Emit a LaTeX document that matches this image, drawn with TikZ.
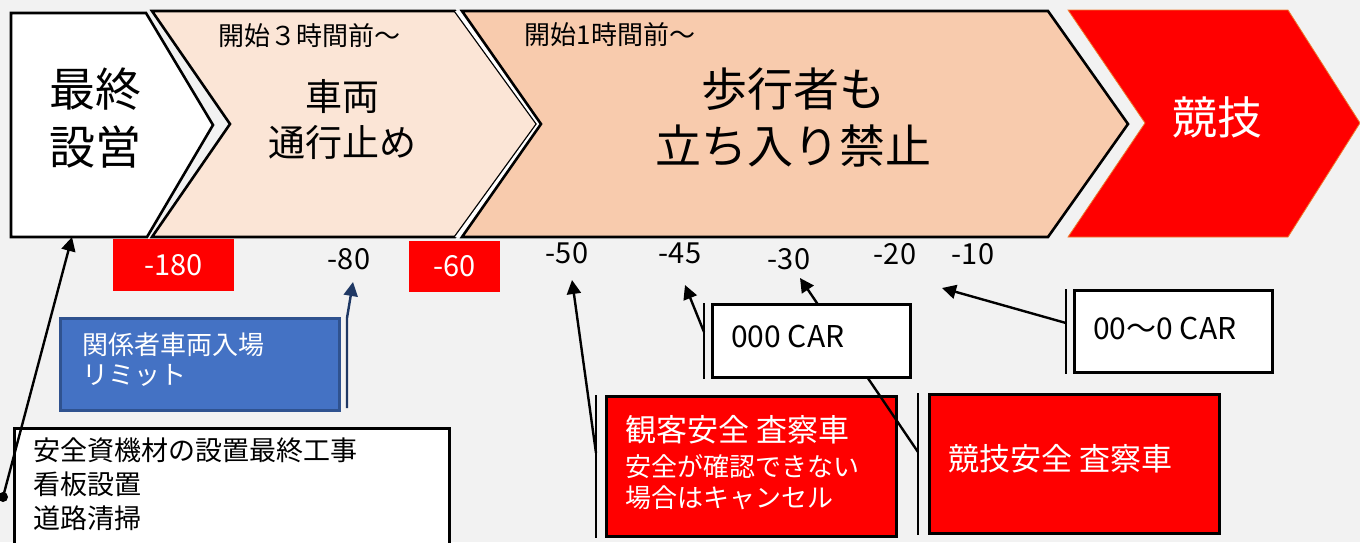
\documentclass[tikz,border=0pt]{standalone}
\usepackage{fontspec}
\setmainfont{Noto Sans CJK JP}
\usetikzlibrary{arrows.meta}
\definecolor{bg}{HTML}{F2F2F2}
\definecolor{peachA}{HTML}{FBE5D6}
\definecolor{peachB}{HTML}{F8CBAD}
\definecolor{myred}{HTML}{FF0000}
\definecolor{myblue}{HTML}{4472C4}
\definecolor{myblueb}{HTML}{2F528F}
\definecolor{navy}{HTML}{1F3864}
\definecolor{orangeb}{HTML}{ED7D31}
\newcommand\myfs[2]{\fontsize{#1}{#2}\selectfont}
\tikzset{
  phase/.style={line width=2.6pt, line join=miter},
  num/.style={inner sep=0pt, font=\myfs{29}{34}},
  redtag/.style={num, fill=myred, text=white},
  cbox/.style={draw=black, line width=2.6pt, inner sep=0pt},
  accent/.style={line width=2.6pt},
  conn/.style={line width=2.4pt, -{Triangle[length=14pt,width=14pt]}},
  wtxt/.style={text=white, inner sep=0pt, anchor=west},
  btxt/.style={inner sep=0pt, anchor=west},
}
\begin{document}
\begin{tikzpicture}[x=1pt,y=-1pt]
\fill[bg] (0,0) rectangle (1360,542);
\useasboundingbox (0,0) rectangle (1360,542);

% phases
\filldraw[phase, fill=white] (11,13) -- (146,13) -- (213,125) -- (147,237) -- (11,237) -- cycle;
\filldraw[phase, fill=peachA] (152,11) -- (455,11) -- (537,124) -- (455,237) -- (152,237) -- (230,124) -- cycle;
\fill[white] (455,11) -- (462,11) -- (541,124) -- (462,237) -- (455,237) -- (537,124) -- cycle;
\filldraw[phase, fill=peachB] (462,11) -- (1048,11) -- (1128,124) -- (1048,237) -- (462,237) -- (541,124) -- cycle;
\filldraw[fill=myred, draw=orangeb, line width=0.8pt] (1068,10) -- (1288,10) -- (1360,123) -- (1288,237) -- (1068,237) -- (1145,123) -- cycle;

\node[inner sep=0pt, align=center, font=\myfs{46}{58}] (tSaishu) at (95,118) {最終\\設営};
\node[inner sep=0pt, font=\myfs{26}{30}] (tStart3) at (309,36) {開始３時間前～};
\node[inner sep=0pt, align=center, font=\myfs{37}{46}] (tSharyo) at (342,120) {車両\\通行止め};
\node[inner sep=0pt, font=\myfs{26}{30}] (tStart1) at (610,35) {開始1時間前～};
\node[inner sep=0pt, align=center, font=\myfs{46}{57}] (tHoko) at (793,118) {歩行者も\\立ち入り禁止};
\node[inner sep=0pt, text=white, font=\myfs{45}{54}] (tKyogi) at (1217,117) {競技};

% time labels
\node[redtag, minimum width=121pt, minimum height=52pt] (l180) at (173.5,265) {-180};
\node[num] (l80) at (349,259) {-80};
\node[redtag, minimum width=91pt, minimum height=51pt] (l60) at (454.5,266.5) {-60};
\node[num] (l50) at (567,253) {-50};
\node[num] (l45) at (680,253) {-45};
\node[num] (l30) at (789,259) {-30};
\node[num] (l20) at (895,254) {-20};
\node[num] (l10) at (973,254) {-10};

% arrow tips / connector ends
\coordinate (tipS) at (72,237);
\coordinate (dotS) at (3,497);
\coordinate (tip80) at (353,282);
\coordinate (tip50) at (572,280);
\coordinate (tip45) at (685,285);
\coordinate (tip30) at (800,278);
\coordinate (tip10) at (942,288);

% boxes
\node[cbox, fill=white, minimum width=435pt, minimum height=135pt, anchor=north west] (bSetup) at (13,427) {};
\node[cbox, fill=myblue, draw=myblueb, minimum width=279pt, minimum height=92pt, anchor=north west] (bBlue) at (59,317) {};
\node[cbox, fill=myred, minimum width=290pt, minimum height=140pt, anchor=north west] (bKan) at (605,395) {};
\node[cbox, fill=myred, minimum width=290pt, minimum height=139pt, anchor=north west] (bKyo) at (928,393) {};

% accent bars
\draw[accent] ([xshift=-9pt]bKan.north west) -- ([xshift=-9pt]bKan.south west);
\draw[accent] ([xshift=-10pt]bKyo.north west) -- ([xshift=-10pt]bKyo.south west);

% connector of 競技安全 (under 000 CAR box)
\coordinate (kyoBar) at (918,452);
\draw[conn] (kyoBar) -- (tip30);

\node[cbox, fill=white, minimum width=198pt, minimum height=73pt, anchor=north west] (bCar1) at (711,303) {};
\node[cbox, fill=white, minimum width=198pt, minimum height=82pt, anchor=north west] (bCar2) at (1073,289) {};
\draw[accent] ([xshift=-7pt]bCar1.north west) -- ([xshift=-7pt]bCar1.south west);
\draw[accent] ([xshift=-7pt]bCar2.north west) -- ([xshift=-7pt]bCar2.south west);

% other connectors
\coordinate (kanBar) at (596,453);
\coordinate (car1Bar) at (704,332);
\coordinate (car2Bar) at (1066,323);
\coordinate (blueBot) at (347,408);
\coordinate (blueTop) at (347,318);
\draw[conn] (kanBar) -- (tip50);
\draw[conn] (car1Bar) -- (tip45);
\draw[conn] (car2Bar) -- (tip10);
\draw[conn, navy] (blueBot) -- (blueTop) -- (tip80);
\draw[conn] (dotS) -- (tipS);
\fill (dotS) circle (5);

% box texts
\node[inner sep=0pt, anchor=west, align=left, text=white, font=\myfs{26}{30}] (tBlue) at (82,360) {関係者車両入場\\リミット};
\node[inner sep=0pt, anchor=west, align=left, font=\myfs{27}{34}] (tSetup) at (33,484) {安全資機材の設置最終工事\\看板設置\\道路清掃};
\node[wtxt, font=\myfs{31}{36}] (tKan1) at (625,430) {観客安全 査察車};
\node[wtxt, font=\myfs{26}{30}] (tKan2) at (625,467) {安全が確認できない};
\node[wtxt, font=\myfs{26}{30}] (tKan3) at (625,498) {場合はキャンセル};
\node[wtxt, font=\myfs{31}{36}] (tKyo) at (948,459) {競技安全 査察車};
\node[btxt, font=\myfs{30}{34}] (tCar1) at (731,336) {000 CAR};
\node[btxt, font=\myfs{30}{34}] (tCar2) at (1093,328) {00～0 CAR};
\end{tikzpicture}
\end{document}
